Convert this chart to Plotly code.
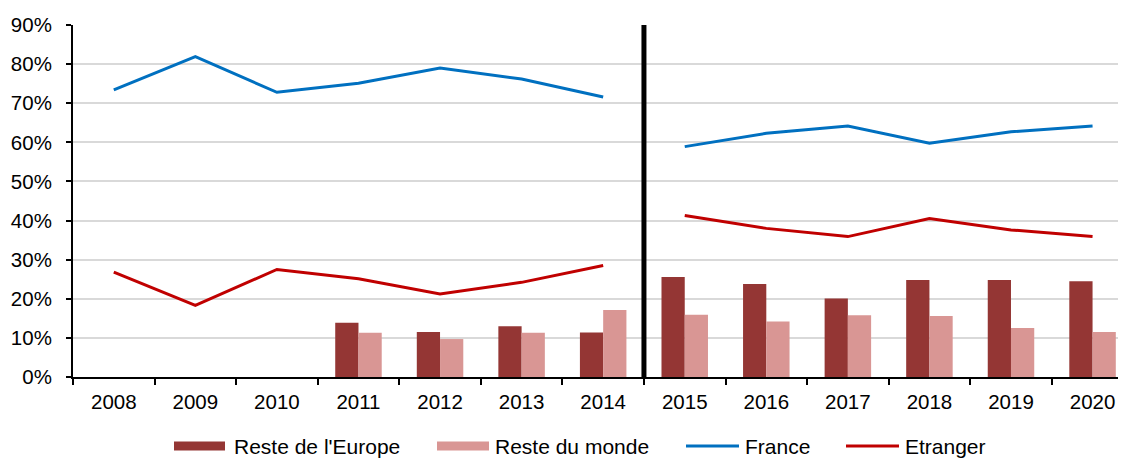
import plotly.graph_objects as go

years = [str(y) for y in range(2008, 2021)]
france = [73.4, 81.9, 72.8, 75.1, 79.0, 76.2, 71.6, 58.9, 62.3, 64.2, 59.8, 62.7, 64.2]
etranger = [26.8, 18.3, 27.5, 25.1, 21.2, 24.2, 28.5, 41.3, 38.0, 35.9, 40.5, 37.6, 35.9]
bar_years = [str(y) for y in range(2011, 2021)]
europe = [13.9, 11.5, 13.0, 11.4, 25.6, 23.8, 20.1, 24.8, 24.8, 24.5]
monde = [11.3, 9.7, 11.3, 17.1, 15.9, 14.2, 15.8, 15.6, 12.5, 11.5]
split_index = 7  # first year after the break (2015)

C_EUR = "#943634"
C_MON = "#D99694"
C_FR = "#0070C0"
C_ET = "#C00000"

OFF = 8  # default page body margin
W, H = 1126 - OFF, 458 - OFF
ML, MR, MT, MB = 73 - OFF, 0, 25 - OFF, 81
PW, PH = W - ML - MR, H - MT - MB
FONT = "Liberation Sans, Arial, sans-serif"
FS = 20.5
FS_LEG = 21

def px(x):
    return (x - OFF - ML) / PW

def py(y):
    return (H - MB - (y - OFF)) / PH

fig = go.Figure()
fig.add_trace(go.Bar(x=bar_years, y=europe, name="Reste de l'Europe", marker_color=C_EUR,
                     marker_line_width=0))
fig.add_trace(go.Bar(x=bar_years, y=monde, name="Reste du monde", marker_color=C_MON,
                     marker_line_width=0))

for name, vals, col in [("France", france, C_FR), ("Etranger", etranger, C_ET)]:
    fig.add_trace(go.Scatter(x=years[:split_index], y=vals[:split_index], mode="lines",
                             name=name, line=dict(color=col, width=3)))
    fig.add_trace(go.Scatter(x=years[split_index:], y=vals[split_index:], mode="lines",
                             name=name, line=dict(color=col, width=3)))

fig.add_shape(type="line", xref="x", yref="paper", x0=split_index - 0.5, x1=split_index - 0.5,
              y0=0, y1=1, line=dict(color="black", width=5))

# custom legend (layout only), positions in page pixels
legend_items = [
    ("rect", C_EUR, 174, 225, 234, "Reste de l'Europe"),
    ("rect", C_MON, 437, 489, 495, "Reste du monde"),
    ("line", C_FR, 686, 739, 745, "France"),
    ("line", C_ET, 846, 899, 905, "Etranger"),
]
ly = 446
for kind, col, x0, x1, tx, label in legend_items:
    if kind == "rect":
        fig.add_shape(type="rect", xref="paper", yref="paper", x0=px(x0), x1=px(x1),
                      y0=py(ly + 4.5), y1=py(ly - 4.5), fillcolor=col, line_width=0)
    else:
        fig.add_shape(type="line", xref="paper", yref="paper", x0=px(x0), x1=px(x1),
                      y0=py(ly), y1=py(ly), line=dict(color=col, width=3))
    fig.add_annotation(xref="paper", yref="paper", x=px(tx), y=py(ly), text=label,
                       showarrow=False, xanchor="left", yanchor="middle",
                       font=dict(family=FONT, size=FS_LEG, color="black"), xshift=-2)

fig.update_layout(
    width=W, height=H,
    margin=dict(l=ML, r=MR, t=MT, b=MB, autoexpand=False),
    paper_bgcolor="white", plot_bgcolor="white",
    barmode="group", bargap=0.43, bargroupgap=0,
    font=dict(family=FONT, size=FS, color="black"),
    showlegend=False,
)
fig.update_xaxes(type="category", categoryorder="array", categoryarray=years,
                 range=[-0.5, 12.41], showline=True, linecolor="black", linewidth=2,
                 ticks="outside", tickson="boundaries", ticklen=6, tickcolor="black",
                 tickwidth=2, showgrid=False, tickfont=dict(size=FS), automargin=False,
                 ticklabelstandoff=5)
fig.update_yaxes(range=[0, 90], dtick=10, ticksuffix="%", showline=True, linecolor="black",
                 linewidth=2, ticks="outside", ticklen=5, tickcolor="black", tickwidth=2,
                 showgrid=True, gridcolor="#D9D9D9", gridwidth=2, zeroline=False,
                 tickfont=dict(size=FS), automargin=False, ticklabelstandoff=10)

fig.write_html("out.html")
